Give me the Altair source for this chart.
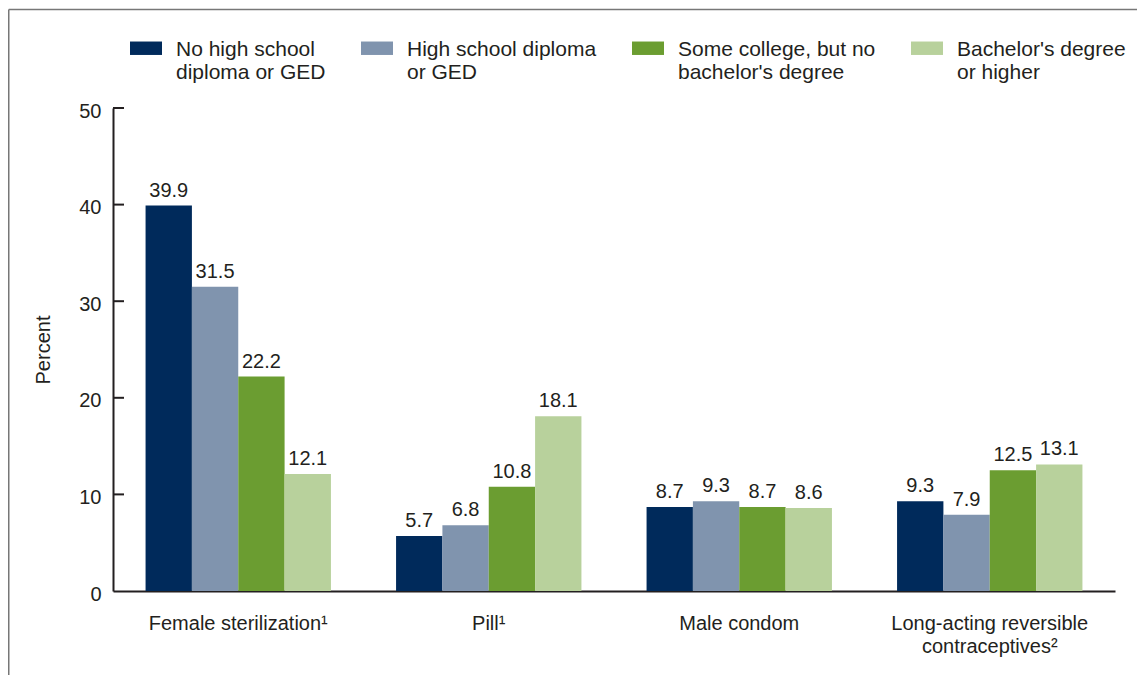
import altair as alt
import pandas as pd

methods = ["Female sterilization¹", "Pill¹", "Male condom", "Long-acting reversible\ncontraceptives²"]
education = [
    "No high school\ndiploma or GED",
    "High school diploma\nor GED",
    "Some college, but no\nbachelor's degree",
    "Bachelor's degree\nor higher",
]
no_hs = [39.9, 5.7, 8.7, 9.3]
hs = [31.5, 6.8, 9.3, 7.9]
some_college = [22.2, 10.8, 8.7, 12.5]
bachelors = [12.1, 18.1, 8.6, 13.1]
y_ticks = [0, 10, 20, 30, 40, 50]
colors = ["#002a5b", "#8094ae", "#6b9d31", "#b8d19c"]

rows = []
for edu, vals in zip(education, [no_hs, hs, some_college, bachelors]):
    for m, v in zip(methods, vals):
        rows.append({"method": m, "edu": edu, "value": v})
df = pd.DataFrame(rows)

W, H = 1002, 483
FONT = "Liberation Sans"
TXT = "#231f20"

x_enc = alt.X(
    "method:N", sort=methods,
    scale=alt.Scale(paddingInner=0.26, paddingOuter=0.13),
    axis=alt.Axis(
        title=None, labelAngle=0, ticks=False,
        labelExpr="split(datum.label, '\\n')",
        labelFontSize=20, labelLineHeight=23, labelPadding=22,
        labelColor=TXT, labelFont=FONT, labelLimit=400,
        domainColor=TXT, domainWidth=2,
    ),
)
xo_enc = alt.XOffset("edu:N", sort=education, scale=alt.Scale(paddingInner=0, paddingOuter=0))
y_enc = alt.Y(
    "value:Q", scale=alt.Scale(domain=[0, 50]),
    axis=alt.Axis(
        title="Percent", values=y_ticks, tickSize=0, grid=False,
        labelFontSize=20, labelColor=TXT, labelFont=FONT, labelPadding=12,
        labelOffset=3,
        titleFontSize=20, titleFont=FONT, titleColor=TXT, titleFontWeight="normal",
        titlePadding=25,
        domainColor=TXT, domainWidth=2,
    ),
)

base = alt.Chart(df)
bars = base.mark_bar().encode(
    x=x_enc, xOffset=xo_enc, y=y_enc,
    color=alt.Color(
        "edu:N", sort=education,
        scale=alt.Scale(domain=education, range=colors),
        legend=alt.Legend(
            title=None, orient="none", legendX=17, legendY=-74,
            direction="horizontal", columns=4,
            symbolType="M-1,-0.53H1V0.31H-1Z", symbolSize=1024,
            symbolStrokeWidth=0, symbolOpacity=1,
            labelExpr="split(datum.label, '\\n')",
            labelFontSize=21, labelFont=FONT,
            labelColor=TXT, labelLimit=400, labelOffset=14,
            columnPadding=35,
        ),
    ),
)
labels = base.mark_text(baseline="bottom", dy=-5, fontSize=20, font=FONT, color=TXT).encode(
    x=x_enc, xOffset=xo_enc, y=y_enc,
    text=alt.Text("value:Q", format=".1f"),
)

tick_df = pd.DataFrame({"t": y_ticks[1:]})
ticks = alt.Chart(tick_df).mark_rule(color=TXT, strokeWidth=2).encode(
    y=alt.Y("t:Q", scale=alt.Scale(domain=[0, 50])),
    x=alt.value(0), x2=alt.value(11),
)

frame_df = pd.DataFrame({"a": [0]})
frame_left = alt.Chart(frame_df).mark_rule(color="#777777", strokeWidth=1.5).encode(
    x=alt.value(-104.25), y=alt.value(-98.5), y2=alt.value(H + 84),
)
frame_top = alt.Chart(frame_df).mark_rule(color="#777777", strokeWidth=1.5).encode(
    y=alt.value(-98.5), x=alt.value(-104.25), x2=alt.value(W + 22),
)

chart = alt.layer(bars, labels, ticks, frame_left, frame_top).properties(
    width=W, height=H, padding=0, background="white"
).configure(
    style={"guide-label": {"lineHeight": 23}}
).configure_view(stroke=None).configure_axis(grid=False)

chart.save("out.html", embed_options={"renderer": "svg", "actions": False})
